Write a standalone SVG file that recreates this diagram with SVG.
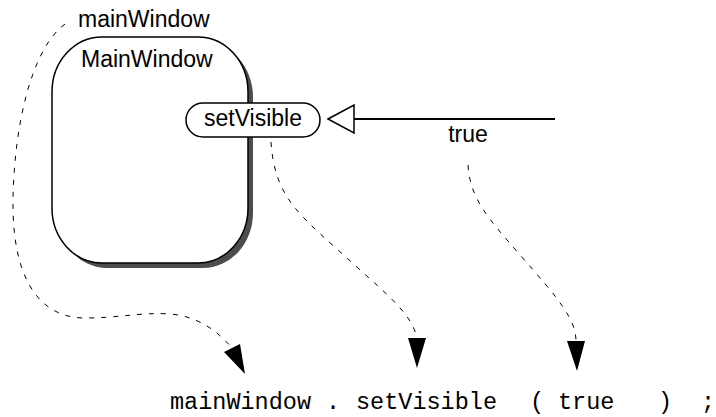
<svg xmlns="http://www.w3.org/2000/svg" width="716" height="417" viewBox="0 0 716 417">
  <style>
    .label { font-family: "Liberation Sans", Arial, sans-serif; font-size: 23px; fill: #000; }
    .code { font-family: "Liberation Mono", "Courier New", monospace; font-size: 23.5px; fill: #000; }
    .flow { fill: none; stroke: #000; stroke-width: 1; stroke-dasharray: 5 7; }
    .head { fill: #000; stroke: none; }
  </style>
  <rect width="716" height="417" fill="#fff"/>

  <!-- object instance with drop shadow -->
  <g id="mainWindow-object">
    <rect x="57" y="42" width="196" height="226" rx="50" ry="55" fill="#4d4d4d"/>
    <rect x="52" y="37" width="196" height="226" rx="50" ry="55" fill="#fff" stroke="#000" stroke-width="1.5"/>
    <text class="label" x="81" y="67">MainWindow</text>
  </g>

  <!-- variable name label -->
  <g id="mainWindow-name">
    <text class="label" x="78" y="27">mainWindow</text>
  </g>

  <!-- method port -->
  <g id="setVisible-method">
    <rect x="186" y="103" width="134" height="34" rx="17" ry="17" fill="#fff" stroke="#000" stroke-width="1.5"/>
    <text class="label" x="253" y="126" text-anchor="middle">setVisible</text>
  </g>

  <!-- argument label -->
  <g id="true-argument">
    <text class="label" x="468" y="142" text-anchor="middle">true</text>
  </g>

  <!-- resulting source line -->
  <g id="code-line">
    <text class="code" y="409"><tspan x="170">mainWindow</tspan><tspan x="326">.</tspan><tspan x="356">setVisible</tspan><tspan x="530">(</tspan><tspan x="558">true</tspan><tspan x="658">)</tspan><tspan x="701">;</tspan></text>
  </g>

  <g id="connectors">
    <!-- message send into setVisible -->
    <line x1="354" y1="119" x2="555" y2="119" stroke="#000" stroke-width="2"/>
    <polygon points="328,119 354,105 354,133" fill="#fff" stroke="#000" stroke-width="1.5"/>

    <!-- mainWindow to source token -->
    <path class="flow" d="M 65 24 C 30 50, 14 130, 13 200 C 12 280, 40 318, 85 318 C 120 318, 140 312, 170 314 C 195 316, 215 328, 232 348"/>
    <polygon class="head" points="224,352 240,344 245,374"/>

    <!-- setVisible to source token -->
    <path class="flow" d="M 271 142 C 275 200, 300 215, 358 268 C 390 297, 412 315, 417 338"/>
    <polygon class="head" points="408,338 426,338 417,368"/>

    <!-- true to source token -->
    <path class="flow" d="M 468 165 C 470 200, 490 220, 520 255 C 560 300, 576 320, 576 341"/>
    <polygon class="head" points="567,341 585,341 577,371"/>
  </g>
</svg>
